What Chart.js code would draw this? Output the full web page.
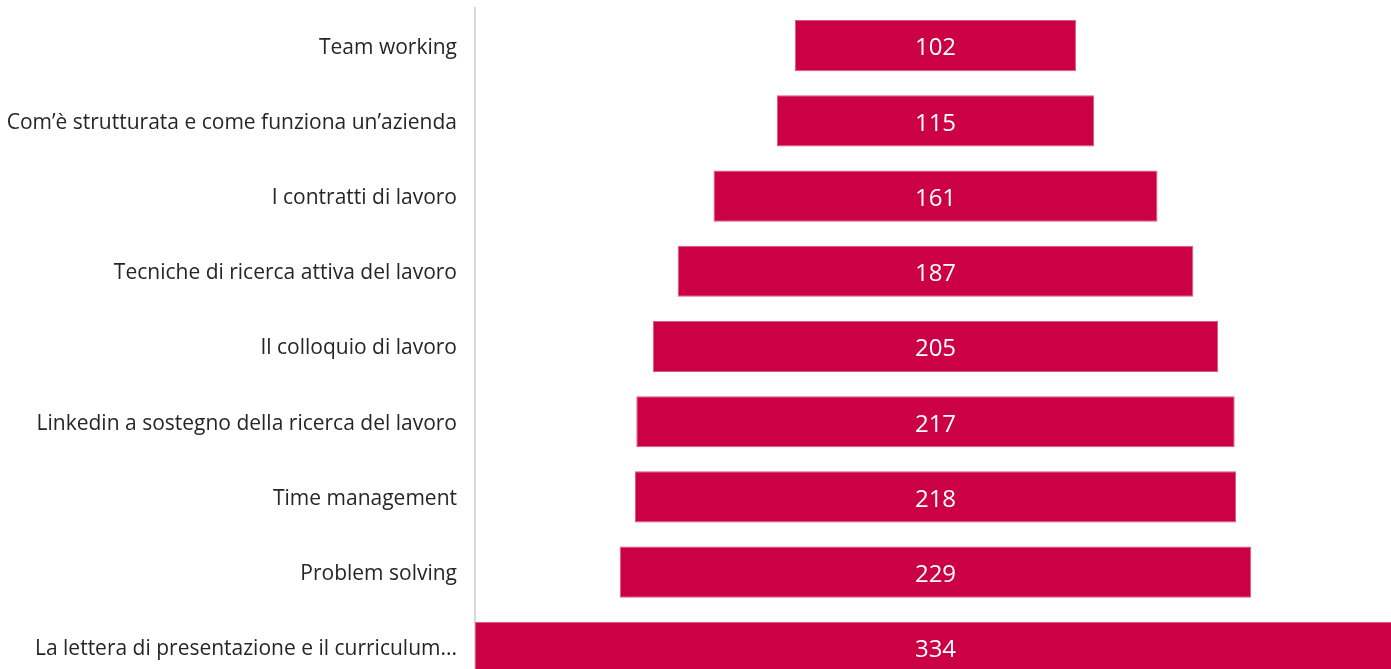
<!DOCTYPE html>
<html>
<head>
<meta charset="utf-8">
<script src="https://cdn.jsdelivr.net/npm/chart.js@4.4.1/dist/chart.umd.min.js"></script>
<style>
    html, body { margin: 0; padding: 0; background: #fff; overflow: hidden; }
    #funnel { display: block; }
</style>
</head>
<body>
<canvas id="funnel" width="1396" height="685"></canvas>
<script>
// Argomenti e numero di risposte (dall'alto verso il basso)
const categories = [
    'Team working',
    'Com\u2019è strutturata e come funziona un\u2019azienda',
    'I contratti di lavoro',
    'Tecniche di ricerca attiva del lavoro',
    'Il colloquio di lavoro',
    'Linkedin a sostegno della ricerca del lavoro',
    'Time management',
    'Problem solving',
    'La lettera di presentazione e il curriculum...'
];
const values = [102, 115, 161, 187, 205, 217, 218, 229, 334];

// bars centred on zero -> funnel shape
const floating = values.map(v => [-v / 2, v / 2]);
const half = Math.max(...values) / 2;

// Value labels in the middle of each bar
const centreLabels = {
    id: 'centreLabels',
    afterDatasetsDraw(chart) {
        const ctx = chart.ctx;
        const meta = chart.getDatasetMeta(0);
        ctx.save();
        ctx.fillStyle = '#ffffff';
        ctx.font = '24px "Open Sans", sans-serif';
        ctx.textAlign = 'center';
        ctx.textBaseline = 'middle';
        const cx = chart.scales.x.getPixelForValue(0);
        meta.data.forEach((bar, i) => {
            ctx.fillText(String(values[i]), cx, bar.y + 3);
        });
        ctx.restore();
    }
};

new Chart(document.getElementById('funnel'), {
    type: 'bar',
    data: {
        labels: categories,
        datasets: [{
            data: floating,
            backgroundColor: '#CC0044',
            borderColor: '#DA5A80',
            borderWidth: 1,
            borderSkipped: false,
            categoryPercentage: 1,
            barPercentage: 0.68
        }]
    },
    options: {
        indexAxis: 'y',
        responsive: false,
        animation: false,
        layout: { padding: { top: 8, left: 0, right: 0, bottom: 0 } },
        plugins: {
            legend: { display: false },
            tooltip: { enabled: false }
        },
        scales: {
            x: {
                display: false,
                min: -half,
                max: half
            },
            y: {
                afterFit: scale => {
                    scale.width = 475;
                    // no extra room for half labels at the ends
                    scale.paddingTop = 0;
                    scale.paddingBottom = 0;
                },
                grid: { display: false, drawTicks: false },
                border: { display: true, color: '#d9d9d9', width: 2 },
                ticks: {
                    color: '#262626',
                    padding: 18,
                    labelOffset: 2,
                    font: { family: '"Open Sans", sans-serif', size: 21 }
                }
            }
        }
    },
    plugins: [centreLabels]
});
</script>
</body>
</html>
